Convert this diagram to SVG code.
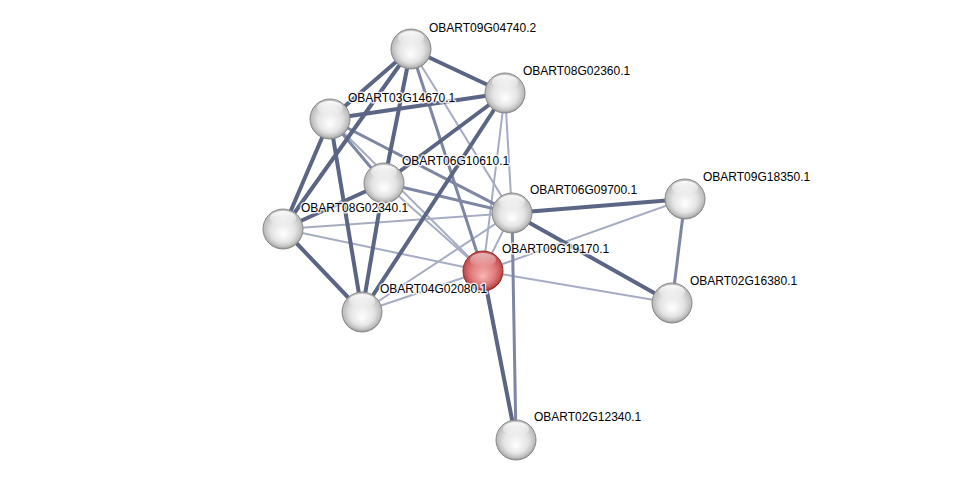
<svg xmlns="http://www.w3.org/2000/svg" width="975" height="485" viewBox="0 0 975 485">
<defs>
<radialGradient id="gw" cx="50%" cy="45%" r="55%" fx="50%" fy="65%">
<stop offset="0" stop-color="#ffffff"/>
<stop offset="0.55" stop-color="#e4e4e4"/>
<stop offset="0.85" stop-color="#bdbdbd"/>
<stop offset="1" stop-color="#8e8e8e"/>
</radialGradient>
<radialGradient id="gr" cx="50%" cy="45%" r="55%" fx="50%" fy="65%">
<stop offset="0" stop-color="#f7b4b4"/>
<stop offset="0.55" stop-color="#e07c7c"/>
<stop offset="0.85" stop-color="#c24f4f"/>
<stop offset="1" stop-color="#8a2020"/>
</radialGradient>
<linearGradient id="hl" x1="0" y1="0" x2="0" y2="1">
<stop offset="0" stop-color="#ffffff" stop-opacity="0.95"/>
<stop offset="1" stop-color="#ffffff" stop-opacity="0"/>
</linearGradient>
</defs>
<style>
.e1{stroke:#5b6584;stroke-width:4;stroke-linecap:round;fill:none}
.e2{stroke:#7d86a3;stroke-width:3;stroke-linecap:round;fill:none}
.e3{stroke:#a6adc3;stroke-width:2;stroke-linecap:round;fill:none}
.n{fill:url(#gw);stroke:#8a8a8a;stroke-width:1}
.r{fill:url(#gr);stroke:#9a2a2a;stroke-width:1}
.h{fill:url(#hl)}
text{font-family:"Liberation Sans",Arial,sans-serif;font-size:12px;fill:#000;stroke:#ffffff;stroke-width:3;stroke-opacity:0.8;paint-order:stroke;stroke-linejoin:round}
</style>
<rect width="975" height="485" fill="#ffffff"/>
<g id="edges">
<line class="e3" x1="411" y1="49" x2="512" y2="213"/>
<line class="e3" x1="505" y1="93" x2="512" y2="213"/>
<line class="e3" x1="505" y1="93" x2="483" y2="271"/>
<line class="e3" x1="330" y1="119" x2="483" y2="271"/>
<line class="e3" x1="384" y1="183" x2="483" y2="271"/>
<line class="e3" x1="283" y1="229" x2="512" y2="213"/>
<line class="e3" x1="283" y1="229" x2="483" y2="271"/>
<line class="e3" x1="362" y1="312" x2="512" y2="213"/>
<line class="e3" x1="362" y1="312" x2="483" y2="271"/>
<line class="e3" x1="483" y1="271" x2="685" y2="199"/>
<line class="e3" x1="483" y1="271" x2="672" y2="303"/>
<line class="e3" x1="483" y1="271" x2="512" y2="213"/>
<line class="e2" x1="411" y1="49" x2="483" y2="271"/>
<line class="e2" x1="330" y1="119" x2="512" y2="213"/>
<line class="e2" x1="384" y1="183" x2="512" y2="213"/>
<line class="e2" x1="330" y1="119" x2="384" y2="183"/>
<line class="e2" x1="512" y1="213" x2="516" y2="440"/>
<line class="e2" x1="685" y1="199" x2="672" y2="303"/>
<line class="e1" x1="411" y1="49" x2="505" y2="93"/>
<line class="e1" x1="411" y1="49" x2="330" y2="119"/>
<line class="e1" x1="411" y1="49" x2="283" y2="229"/>
<line class="e1" x1="411" y1="49" x2="384" y2="183"/>
<line class="e1" x1="505" y1="93" x2="330" y2="119"/>
<line class="e1" x1="505" y1="93" x2="384" y2="183"/>
<line class="e1" x1="505" y1="93" x2="362" y2="312"/>
<line class="e1" x1="330" y1="119" x2="283" y2="229"/>
<line class="e1" x1="330" y1="119" x2="362" y2="312"/>
<line class="e1" x1="384" y1="183" x2="283" y2="229"/>
<line class="e1" x1="384" y1="183" x2="362" y2="312"/>
<line class="e1" x1="283" y1="229" x2="362" y2="312"/>
<line class="e1" x1="512" y1="213" x2="685" y2="199"/>
<line class="e1" x1="512" y1="213" x2="672" y2="303"/>
<line class="e1" x1="483" y1="271" x2="516" y2="440"/>
</g>
<g id="n_OBART09G19170.1"><circle class="r" cx="483" cy="271" r="20"/><ellipse class="h" cx="483" cy="260" rx="13" ry="7" opacity="0.6"/><text x="502" y="253">OBART09G19170.1</text></g>
<g id="n_OBART09G04740.2"><circle class="n" cx="411" cy="49" r="20"/><ellipse class="h" cx="411" cy="38" rx="13" ry="7"/><text x="429" y="32">OBART09G04740.2</text></g>
<g id="n_OBART08G02360.1"><circle class="n" cx="505" cy="93" r="20"/><ellipse class="h" cx="505" cy="82" rx="13" ry="7"/><text x="523" y="75">OBART08G02360.1</text></g>
<g id="n_OBART03G14670.1"><circle class="n" cx="330" cy="119" r="20"/><ellipse class="h" cx="330" cy="108" rx="13" ry="7"/><text x="348" y="102">OBART03G14670.1</text></g>
<g id="n_OBART06G10610.1"><circle class="n" cx="384" cy="183" r="20"/><ellipse class="h" cx="384" cy="172" rx="13" ry="7"/><text x="402" y="165">OBART06G10610.1</text></g>
<g id="n_OBART06G09700.1"><circle class="n" cx="512" cy="213" r="20"/><ellipse class="h" cx="512" cy="202" rx="13" ry="7"/><text x="530" y="194">OBART06G09700.1</text></g>
<g id="n_OBART09G18350.1"><circle class="n" cx="685" cy="199" r="20"/><ellipse class="h" cx="685" cy="188" rx="13" ry="7"/><text x="703" y="181">OBART09G18350.1</text></g>
<g id="n_OBART08G02340.1"><circle class="n" cx="283" cy="229" r="20"/><ellipse class="h" cx="283" cy="218" rx="13" ry="7"/><text x="301" y="212">OBART08G02340.1</text></g>
<g id="n_OBART04G02080.1"><circle class="n" cx="362" cy="312" r="20"/><ellipse class="h" cx="362" cy="301" rx="13" ry="7"/><text x="380" y="293">OBART04G02080.1</text></g>
<g id="n_OBART02G16380.1"><circle class="n" cx="672" cy="303" r="20"/><ellipse class="h" cx="672" cy="292" rx="13" ry="7"/><text x="690" y="285">OBART02G16380.1</text></g>
<g id="n_OBART02G12340.1"><circle class="n" cx="516" cy="440" r="20"/><ellipse class="h" cx="516" cy="429" rx="13" ry="7"/><text x="534" y="421">OBART02G12340.1</text></g>
</svg>
